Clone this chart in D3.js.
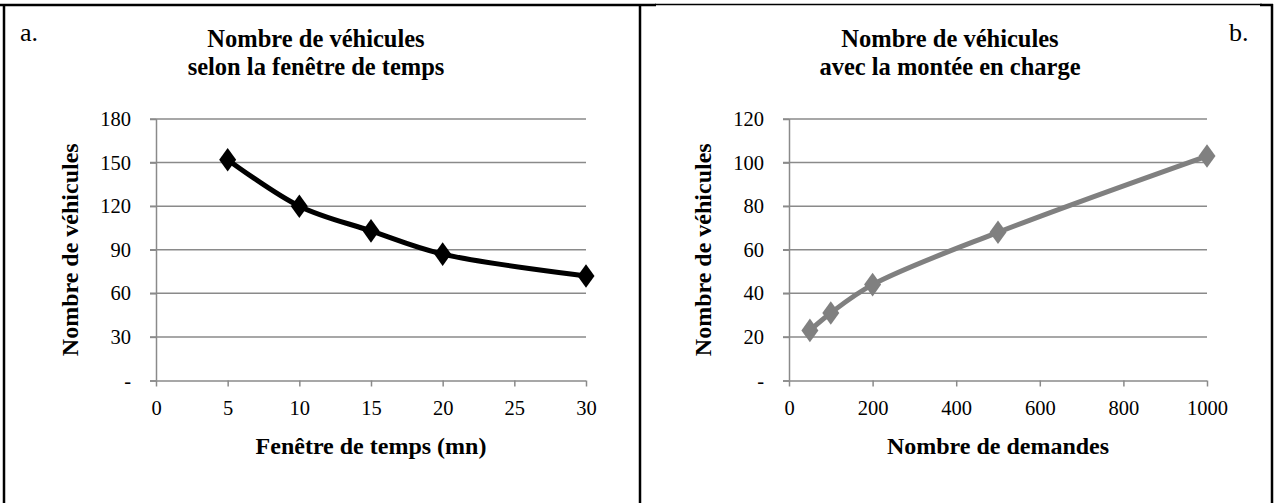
<!DOCTYPE html>
<html><head><meta charset="utf-8">
<script src="https://cdn.jsdelivr.net/npm/d3@7"></script>
<style>
body{margin:0;background:#fff;}
</style></head>
<body><svg id="c" width="1276" height="503"></svg>
<script>
// Panel a data
const timeWindow = [5, 10, 15, 20, 30];
const vehiclesA = [152, 120, 103, 87, 72];
const xTicksA = [0, 5, 10, 15, 20, 25, 30];
const yTicksA = [0, 30, 60, 90, 120, 150, 180];
// Panel b data
const demands = [50, 100, 200, 500, 1000];
const vehiclesB = [23, 31, 44, 68, 103];
const xTicksB = [0, 200, 400, 600, 800, 1000];
const yTicksB = [0, 20, 40, 60, 80, 100, 120];

const FONT = "'Liberation Serif', 'Times New Roman', serif";
const svg = d3.select("#c");
const gridCol = "#8a8a8a";

// borders
svg.append("line").attr("x1",0).attr("x2",656).attr("y1",5).attr("y2",5).attr("stroke","#000").attr("stroke-width",2.5);
svg.append("line").attr("x1",655).attr("x2",1262).attr("y1",4.5).attr("y2",4.5).attr("stroke","#000").attr("stroke-width",1.5);
svg.append("line").attr("x1",1260).attr("x2",1273).attr("y1",5).attr("y2",5).attr("stroke","#000").attr("stroke-width",2.5);
svg.append("line").attr("x1",4).attr("x2",4).attr("y1",4).attr("y2",503).attr("stroke","#000").attr("stroke-width",2.5);
svg.append("line").attr("x1",640).attr("x2",640).attr("y1",4).attr("y2",503).attr("stroke","#000").attr("stroke-width",2.5);
svg.append("line").attr("x1",1272).attr("x2",1272).attr("y1",4).attr("y2",503).attr("stroke","#000").attr("stroke-width",2.5);

function panel(opt){
  const x = d3.scaleLinear().domain(opt.xDomain).range([opt.x0, opt.x1]);
  const y = d3.scaleLinear().domain(opt.yDomain).range([opt.y0, opt.y1]);
  const g = svg.append("g");
  // gridlines
  g.selectAll(".grid").data(opt.yTicks.filter(d=>d>0)).join("line")
    .attr("x1",opt.x0-6).attr("x2",opt.x1).attr("y1",d=>y(d)).attr("y2",d=>y(d))
    .attr("stroke",gridCol).attr("stroke-width",1.5);
  // y axis
  const ya = d3.axisLeft(y).tickValues(opt.yTicks).tickSize(6).tickPadding(19)
     .tickFormat(d=> d===0 ? "-" : d3.format("d")(d));
  const yg = g.append("g").attr("transform",`translate(${opt.x0},0)`).call(ya);
  // x axis
  const xa = d3.axisBottom(x).tickValues(opt.xTicks).tickSize(6).tickPadding(11).tickFormat(d3.format("d"));
  const xg = g.append("g").attr("transform",`translate(0,${opt.y0})`).call(xa);
  [yg,xg].forEach(a=>{
    a.select(".domain").attr("stroke",gridCol).attr("stroke-width",1.5);
    a.selectAll(".tick line").attr("stroke",gridCol).attr("stroke-width",1.5);
    a.selectAll(".tick text").style("font-family",FONT).style("font-size","20.5px").attr("fill","#000");
  });
  xg.select(".domain").attr("d",`M${opt.x0-6},0.5H${opt.x1}`);
  yg.select(".domain").attr("d",`M0.5,${opt.y0}V${opt.y1}`);
  xg.selectAll(".tick text").attr("dy","0.85em");
  // line
  const line = d3.line().x(d=>x(d[0])).y(d=>y(d[1])).curve(d3.curveCatmullRom.alpha(0.5));
  const pts = opt.xs.map((v,i)=>[v, opt.ys[i]]);
  g.append("path").attr("d",line(pts)).attr("fill","none").attr("stroke",opt.color).attr("stroke-width",5);
  g.selectAll(".mk").data(pts).join("path")
    .attr("d",d3.symbol(d3.symbolDiamond,160)())
    .attr("transform",d=>`translate(${x(d[0])},${y(d[1])}) scale(1.25,1)`)
    .attr("fill",opt.color);
  // titles
  const t = g.append("text").attr("text-anchor","middle").style("font-weight","bold")
    .style("font-family",FONT).style("font-size","24.5px");
  t.append("tspan").attr("x",opt.tx).attr("y",47).text(opt.title[0]);
  t.append("tspan").attr("x",opt.tx).attr("y",75).text(opt.title[1]);
  g.append("text").attr("x",(opt.x0+opt.x1)/2).attr("y",454).attr("text-anchor","middle")
    .style("font-family",FONT).style("font-weight","bold").style("font-size","24px").text(opt.xTitle);
  g.append("text").attr("transform",`translate(${opt.ytx},${(opt.y0+opt.y1)/2}) rotate(-90)`)
    .attr("text-anchor","middle").style("font-family",FONT).style("font-weight","bold").style("font-size","24px").text(opt.yTitle);
}

panel({xDomain:[0,30], yDomain:[0,180], x0:156, x1:586, y0:380.5, y1:119,
  xs:timeWindow, ys:vehiclesA, xTicks:xTicksA, yTicks:yTicksA, color:"#000",
  title:["Nombre de véhicules","selon la fenêtre de temps"], tx:316,
  xTitle:"Fenêtre de temps (mn)", yTitle:"Nombre de véhicules", ytx:78});

panel({xDomain:[0,1000], yDomain:[0,120], x0:789, x1:1207, y0:380.5, y1:119,
  xs:demands, ys:vehiclesB, xTicks:xTicksB, yTicks:yTicksB, color:"#808080",
  title:["Nombre de véhicules","avec la montée en charge"], tx:950,
  xTitle:"Nombre de demandes", yTitle:"Nombre de véhicules", ytx:711});

svg.append("text").attr("x",20).attr("y",41).style("font-family",FONT).style("font-size","26px").text("a.");
svg.append("text").attr("x",1229).attr("y",41).style("font-family",FONT).style("font-size","26px").text("b.");
</script></body></html>
